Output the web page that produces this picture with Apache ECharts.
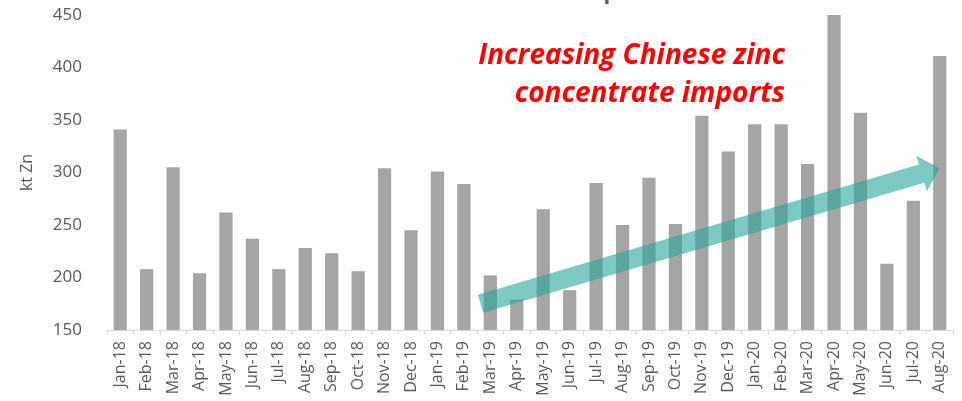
<!DOCTYPE html>
<html>
<head>
<meta charset="utf-8">
<script src="https://cdn.jsdelivr.net/npm/echarts@6/dist/echarts.min.js"></script>
<style>html,body{margin:0;padding:0;background:#fff;}#c{width:962px;height:401px;}</style>
</head>
<body>
<div id="c"></div>
<script>
const categories = ['Jan-18','Feb-18','Mar-18','Apr-18','May-18','Jun-18','Jul-18','Aug-18','Sep-18','Oct-18','Nov-18','Dec-18',
  'Jan-19','Feb-19','Mar-19','Apr-19','May-19','Jun-19','Jul-19','Aug-19','Sep-19','Oct-19','Nov-19','Dec-19',
  'Jan-20','Feb-20','Mar-20','Apr-20','May-20','Jun-20','Jul-20','Aug-20'];
const imports = [341, 208, 305, 204, 262, 237, 208, 228, 223, 206, 304, 245,
  301, 289, 202, 179, 265, 188, 290, 250, 295, 251, 354, 320,
  346, 346, 308, 450, 357, 213, 273, 411];
const yTicks = [150, 200, 250, 300, 350, 400, 450];
const titleText = 'Chinese zinc concentrate imports';
const noteText = 'Increasing Chinese zinc\nconcentrate imports';
const yName = 'kt Zn';
// trend arrow endpoints in data units: [category index, value]
const arrowFrom = [13.63, 175];
const arrowTo = [31, 304];

const chart = echarts.init(document.getElementById('c'));
const font = '"Open Sans", sans-serif';
chart.setOption({
  animation: false,
  grid: { left: 107, right: 9, top: 15, bottom: 71, containLabel: false },
  xAxis: {
    type: 'category',
    data: categories,
    boundaryGap: true,
    axisLine: { lineStyle: { color: '#d9d9d9', width: 1 } },
    axisTick: { show: true, length: 5, interval: 0, lineStyle: { color: '#d9d9d9' } },
    axisLabel: { rotate: 90, interval: 0, color: '#595959', fontSize: 16, fontFamily: font, margin: 11 }
  },
  yAxis: {
    type: 'value',
    min: yTicks[0], max: yTicks[yTicks.length - 1], interval: 50,
    name: yName, nameLocation: 'middle', nameGap: 72, nameRotate: 90,
    nameTextStyle: { color: '#595959', fontSize: 16, fontFamily: font },
    axisLine: { show: false }, axisTick: { show: false },
    splitLine: { show: false },
    axisLabel: { color: '#595959', fontSize: 17, fontFamily: font, margin: 25 }
  },
  series: [{
    type: 'bar',
    data: imports,
    barWidth: '50%',
    itemStyle: { color: '#a5a5a5' },
    z: 2
  }]
});

function px(idx, val) {
  const a = chart.convertToPixel({ gridIndex: 0 }, [0, val]);
  const b = chart.convertToPixel({ gridIndex: 0 }, [1, val]);
  return [a[0] + (b[0] - a[0]) * idx, a[1]];
}
const t = px(arrowFrom[0], arrowFrom[1]);
const p = px(arrowTo[0], arrowTo[1]);
const dx = p[0] - t[0], dy = p[1] - t[1];
const len = Math.hypot(dx, dy);
const ux = dx / len, uy = dy / len;
const nx = -uy, ny = ux;
const w = 9.5, H = 18.5, L = 19;
const bx = p[0] - ux * L, by = p[1] - uy * L;
const pts = [
  [t[0] + nx * w, t[1] + ny * w],
  [bx + nx * w, by + ny * w],
  [bx + nx * H, by + ny * H],
  [p[0], p[1]],
  [bx - nx * H, by - ny * H],
  [bx - nx * w, by - ny * w],
  [t[0] - nx * w, t[1] - ny * w]
];

chart.setOption({
  graphic: [
    {
      type: 'polygon', z: 10,
      shape: { points: pts },
      style: { fill: 'rgba(38,166,154,0.6)' }
    },
    {
      type: 'text', z: 11, x: 785, y: 37,
      style: {
        text: noteText, align: 'right', verticalAlign: 'top',
        font: 'italic bold 28px "Open Sans", sans-serif', lineHeight: 38, fill: '#ff0000'
      }
    },
    {
      type: 'text', z: 11, x: 478, y: 4,
      style: {
        text: titleText, align: 'center', verticalAlign: 'bottom',
        font: 'bold 22px "Open Sans", sans-serif', fill: '#595959'
      }
    }
  ]
});
</script>
</body>
</html>
